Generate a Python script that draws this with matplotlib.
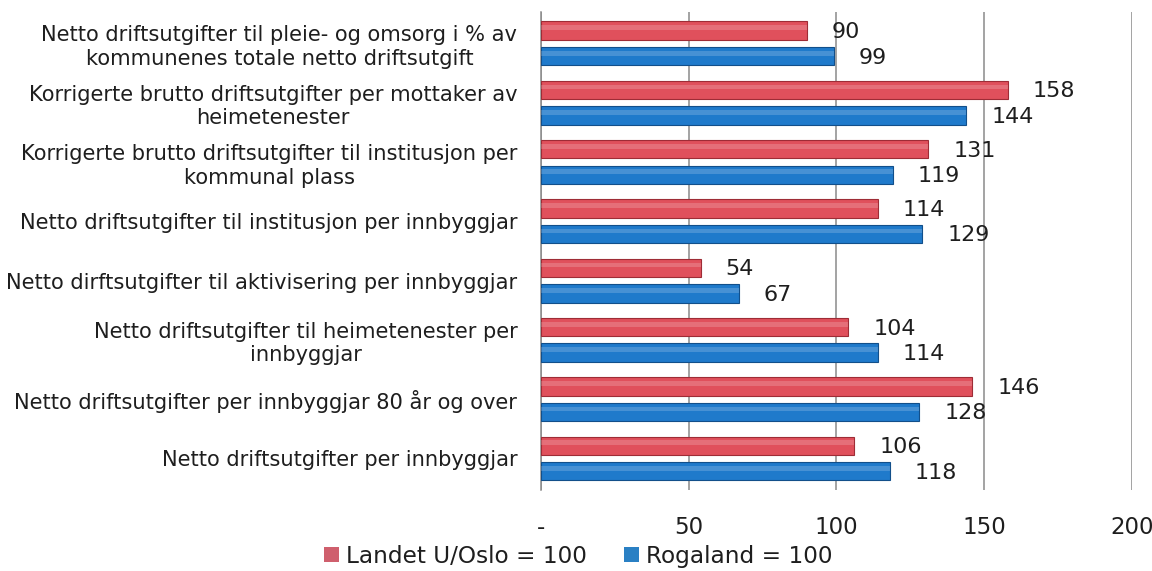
import numpy as np
import matplotlib
matplotlib.use("Agg")
import matplotlib.pyplot as plt
from matplotlib.patches import Patch

# ── Data ─────────────────────────────────────────────────────────────────────
categories = [
    "Netto driftsutgifter til pleie- og omsorg i % av\nkommunenes totale netto driftsutgift",
    "Korrigerte brutto driftsutgifter per mottaker av\nheimetenester",
    "Korrigerte brutto driftsutgifter til institusjon per\nkommunal plass",
    "Netto driftsutgifter til institusjon per innbyggjar",
    "Netto dirftsutgifter til aktivisering per innbyggjar",
    "Netto driftsutgifter til heimetenester per\ninnbyggjar",
    "Netto driftsutgifter per innbyggjar 80 år og over",
    "Netto driftsutgifter per innbyggjar",
]
landet = [90, 158, 131, 114, 54, 104, 146, 106]
rogaland = [99, 144, 119, 129, 67, 114, 128, 118]
series_names = ["Landet U/Oslo = 100", "Rogaland = 100"]
x_ticks = [0, 50, 100, 150, 200]
x_ticklabels = ["-", "50", "100", "150", "200"]

RED, RED_EDGE, RED_LEG = "#e0505c", "#9e2c36", "#cf5f6d"
BLUE, BLUE_EDGE, BLUE_LEG = "#1f7acb", "#124f8a", "#2a80c4"
TEXT = "#1e1e1e"

plt.rcParams["font.family"] = ["DejaVu Sans"]

fig = plt.figure(figsize=(11.52, 5.71), dpi=100)
ax = fig.add_axes([0.4696, 0.142, 0.513, 0.837])

y = np.arange(len(categories))
h = 0.31
off = 0.215

ax.barh(y - off, landet, height=h, color=RED, edgecolor=RED_EDGE, linewidth=0.8, zorder=3)
ax.barh(y + off, rogaland, height=h, color=BLUE, edgecolor=BLUE_EDGE, linewidth=0.8, zorder=3)
# light highlight strip for the glossy look
ax.barh(y - off - 0.05, landet, height=0.08, color="white", alpha=0.18, linewidth=0, zorder=4)
ax.barh(y + off - 0.05, rogaland, height=0.08, color="white", alpha=0.18, linewidth=0, zorder=4)

for yi, v in zip(y, landet):
    ax.annotate(str(v), (v, yi - off), xytext=(18, -1), textcoords="offset points",
                va="center", ha="left", fontsize=16, color=TEXT, zorder=5)
for yi, v in zip(y, rogaland):
    ax.annotate(str(v), (v, yi + off), xytext=(18, -1), textcoords="offset points",
                va="center", ha="left", fontsize=16, color=TEXT, zorder=5)

ax.set_xlim(0, 200)
ax.set_ylim(len(categories) - 0.47, -0.53)
ax.set_xticks(x_ticks)
ax.set_xticklabels(x_ticklabels, fontsize=16.5, color=TEXT)
ax.set_yticks(y)
ax.set_yticklabels(categories, fontsize=15.1, color=TEXT, multialignment="center",
                   linespacing=1.22)
ax.tick_params(axis="both", length=0)
ax.tick_params(axis="x", pad=19)
ax.tick_params(axis="y", pad=17)

ax.grid(axis="x", color="#8a8a8a", linewidth=1.1, zorder=0)
for s in ["top", "right", "bottom"]:
    ax.spines[s].set_visible(False)
ax.spines["left"].set_color("#8a8a8a")
ax.spines["left"].set_linewidth(1.1)

handles = [Patch(facecolor=RED_LEG, edgecolor="none"),
           Patch(facecolor=BLUE_LEG, edgecolor="none")]
fig.legend(handles, series_names, loc="center", bbox_to_anchor=(0.502, 0.026),
           ncol=2, frameon=False, fontsize=16.7, handlelength=0.65, handleheight=0.65,
           handletextpad=0.3, columnspacing=1.6, labelcolor=TEXT, borderpad=0.1)

fig.savefig("out.png", dpi=100, facecolor="white")
